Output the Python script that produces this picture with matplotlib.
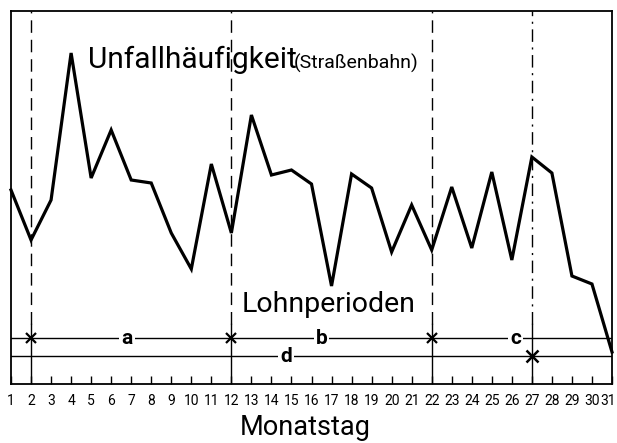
import matplotlib
matplotlib.use("Agg")
import matplotlib.pyplot as plt

days = list(range(1, 32))
accidents = [194, 144, 184, 331, 206, 254, 204, 201, 151, 115, 220, 151, 269, 209,
             214, 200, 98, 210, 196, 132, 179, 134, 197, 136, 212, 124, 227, 211,
             108, 100, 32]
tick_labels = [str(d) for d in days]

pay_days = [2, 12, 22]        # period boundaries a/b/c
pay_day_d = 27                # boundary for period d
period_labels = ["a", "b", "c"]
period_label_pos = [6.8, 16.5, 26.2]
d_label = "d"
d_label_pos = 14.75

FONT = dict(family=["Roboto", "DejaVu Sans"])

fig = plt.figure(figsize=(6.17, 4.43), dpi=100)
ax = fig.add_axes([11 / 617, (443 - 384) / 443, (612 - 11) / 617, (384 - 11) / 443])
ax.set_xlim(1, 31)
ymax = 373
ax.set_ylim(0, ymax)

# main curve
ax.plot(days, accidents, color="black", lw=2.3, solid_joinstyle="miter", clip_on=False, zorder=3)

top_line = 46
d_line = 28
split = 60

# vertical boundary lines
for d in pay_days:
    ax.plot([d, d], [split, ymax], color="black", lw=1.0, ls=(0, (9, 5)), zorder=1)
    ax.plot([d, d], [0, split], color="black", lw=1.0, zorder=1)
ax.plot([pay_day_d, pay_day_d], [split, ymax], color="black", lw=1.0, ls=(0, (9, 4, 1.5, 4)), zorder=1)
ax.plot([pay_day_d, pay_day_d], [0, split], color="black", lw=1.0, zorder=1)

# period lines
ax.plot([1, 31], [top_line, top_line], color="black", lw=1.0, zorder=1)
ax.plot([1, 31], [d_line, d_line], color="black", lw=1.0, zorder=1)
ax.plot(pay_days, [top_line] * len(pay_days), ls="none", marker="x", ms=7, mew=1.6, color="black", zorder=2)
ax.plot([pay_day_d], [d_line], ls="none", marker="x", ms=8, mew=1.8, color="black", zorder=2)

box = dict(facecolor="white", edgecolor="none", pad=1.5)
for lab, pos in zip(period_labels, period_label_pos):
    ax.text(pos, top_line, lab, ha="center", va="center", fontsize=15, fontweight="bold",
            bbox=box, zorder=4, **FONT)
ax.text(d_label_pos, d_line, d_label, ha="center", va="center", fontsize=15, fontweight="bold",
        bbox=box, zorder=4, **FONT)

# titles
ax.text(4.82, 324, "Unfallhäufigkeit", ha="left", va="center", fontsize=21.5, **FONT)
ax.text(15.1, 321, "(Straßenbahn)", ha="left", va="center", fontsize=14, **FONT)
ax.text(12.5, 80, "Lohnperioden", ha="left", va="center", fontsize=20.5, **FONT)

# axes styling
for s in ax.spines.values():
    s.set_linewidth(1.3)
ax.set_xticks(days)
ax.set_xticklabels([])
ax.tick_params(axis="x", direction="in", length=6, width=1.0)
ax.set_yticks([])

# day labels (last one nudged inward so it stays on the canvas)
for d, lab in zip(days, tick_labels):
    dx = -3 if d == days[-1] else 0
    ax.annotate(lab, xy=(d, 0), xycoords=("data", "axes fraction"),
                xytext=(dx, -7), textcoords="offset points",
                ha="center", va="top", fontsize=10, **FONT)

# axis title
ax.annotate("Monatstag", xy=(0.49, 0), xycoords="axes fraction",
            xytext=(0, -31), textcoords="offset points",
            ha="center", va="center", fontsize=19.5, **FONT)

fig.savefig("out.png", dpi=100)
